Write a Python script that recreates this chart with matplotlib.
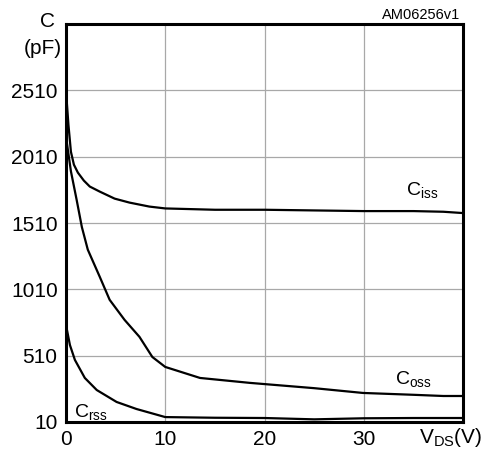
import matplotlib
matplotlib.use("Agg")
import matplotlib.pyplot as plt

plt.rcParams['font.family'] = ['Liberation Sans', 'DejaVu Sans']

# Capacitance vs VDS
vds_iss = [0, 0.25, 0.5, 0.8, 1.2, 1.8, 2.4, 3.4, 4.9, 6.4, 8.4, 10, 15, 20, 25, 30, 35, 38, 40]
c_iss = [2510, 2250, 2047, 1950, 1890, 1830, 1785, 1747, 1694, 1664, 1634, 1620, 1610, 1610, 1605, 1600, 1600, 1595, 1585]

vds_oss = [0, 0.5, 1.07, 1.6, 2.2, 3.4, 4.4, 5.9, 7.4, 8.7, 10, 13.5, 18.5, 25, 29.9, 35, 38, 40]
c_oss = [2163, 1900, 1687, 1480, 1309, 1105, 931, 780, 652, 500, 425, 342, 305, 265, 229, 215, 206, 206]

vds_rss = [0, 0.4, 0.9, 1.9, 3.1, 5.1, 7.1, 10, 15, 20, 25, 30, 35, 40]
c_rss = [743, 590, 478, 342, 251, 161, 108, 47, 42, 40, 30, 38, 40, 40]

x_ticks = [0, 10, 20, 30]
y_ticks = [10, 510, 1010, 1510, 2010, 2510]

fig = plt.figure(figsize=(4.85, 4.54), dpi=100)
ax = fig.add_axes([0.136, 0.0705, 0.819, 0.8765])

for x, y in [(vds_iss, c_iss), (vds_oss, c_oss), (vds_rss, c_rss)]:
    ax.plot(x, y, color='black', linewidth=1.6, zorder=3)

ax.set_xlim(0, 40)
ax.set_ylim(10, 3010)
ax.set_xticks(x_ticks)
ax.set_yticks(y_ticks)
ax.grid(True, color='#a8a8a8', linewidth=0.9)
ax.tick_params(length=0, labelsize=15, pad=6)
for s in ax.spines.values():
    s.set_linewidth(2.2)
    s.set_zorder(4)

ax.text(34.2, 1716, r'C$_{\mathregular{iss}}$', fontsize=14, ha='left', va='baseline')
ax.text(33.1, 290, r'C$_{\mathregular{oss}}$', fontsize=14, ha='left', va='baseline')
ax.text(0.8, 45, r'C$_{\mathregular{rss}}$', fontsize=14, ha='left', va='baseline')

fig.text(0.097, 0.952, 'C', fontsize=15, ha='center', va='center')
fig.text(0.089, 0.894, '(pF)', fontsize=15, ha='center', va='center')
fig.text(0.948, 0.967, 'AM06256v1', fontsize=10.5, ha='right', va='center')
fig.text(0.93, 0.037, r'V$\mathregular{_{DS}}$(V)', fontsize=15, ha='center', va='center')

fig.savefig('out.png', dpi=100)
